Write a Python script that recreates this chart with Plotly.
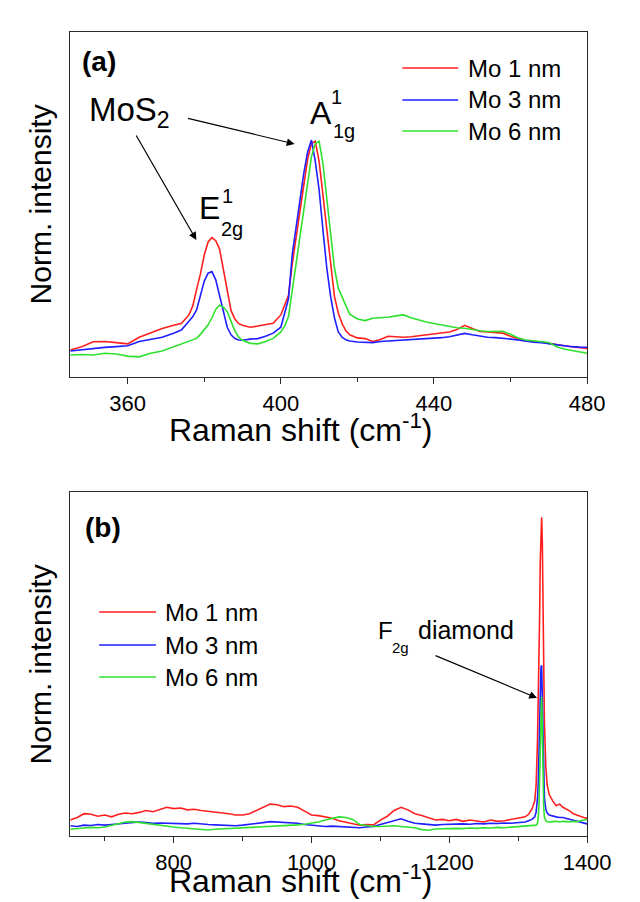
import plotly.graph_objects as go

# ---------------- data: panel (a) MoS2 region ----------------
shift_a = [345, 348, 351, 354, 357, 360, 363, 366, 369, 372, 374, 376, 377, 378, 379, 380,
           381, 382, 383, 384, 385, 386, 387, 388, 389, 390, 392, 394, 396, 398, 400, 401,
           402, 403, 404, 405, 406, 407, 408, 409, 410, 411, 412, 413, 414, 415, 416, 417,
           418, 420, 422, 424, 426, 428, 430, 432, 434, 436, 438, 440, 442, 444, 446, 448,
           450, 452, 454, 456, 458, 460, 462, 464, 466, 468, 470, 472, 474, 476, 478, 480]

mo1_a = [0.114, 0.128, 0.149, 0.150, 0.145, 0.140, 0.168, 0.186, 0.205, 0.218, 0.226, 0.262,
         0.300, 0.370, 0.435, 0.515, 0.570, 0.588, 0.575, 0.540, 0.450, 0.360, 0.280, 0.245,
         0.225, 0.218, 0.210, 0.215, 0.222, 0.227, 0.262, 0.300, 0.345, 0.480, 0.590, 0.700,
         0.820, 0.920, 0.985, 0.995, 0.910, 0.770, 0.620, 0.470, 0.340, 0.270, 0.225, 0.195,
         0.178, 0.165, 0.162, 0.150, 0.158, 0.172, 0.170, 0.168, 0.170, 0.174, 0.178, 0.182,
         0.185, 0.190, 0.200, 0.218, 0.205, 0.192, 0.190, 0.188, 0.185, 0.172, 0.160, 0.152,
         0.150, 0.148, 0.142, 0.136, 0.132, 0.128, 0.124, 0.121]

mo3_a = [0.110, 0.115, 0.122, 0.125, 0.128, 0.132, 0.150, 0.158, 0.168, 0.185, 0.198, 0.235,
         0.255, 0.283, 0.345, 0.405, 0.438, 0.445, 0.410, 0.340, 0.270, 0.210, 0.178, 0.162,
         0.156, 0.155, 0.160, 0.162, 0.172, 0.185, 0.210, 0.270, 0.330, 0.520, 0.640, 0.755,
         0.860, 0.950, 1.000, 0.910, 0.790, 0.620, 0.460, 0.340, 0.250, 0.190, 0.168, 0.157,
         0.152, 0.148, 0.146, 0.145, 0.150, 0.152, 0.153, 0.154, 0.156, 0.158, 0.160, 0.163,
         0.166, 0.170, 0.176, 0.184, 0.178, 0.172, 0.168, 0.166, 0.164, 0.160, 0.156, 0.150,
         0.147, 0.145, 0.140, 0.136, 0.132, 0.128, 0.126, 0.125]

mo6_a = [0.093, 0.095, 0.093, 0.100, 0.097, 0.088, 0.085, 0.100, 0.110, 0.128, 0.138, 0.150,
         0.156, 0.163, 0.180, 0.198, 0.220, 0.250, 0.285, 0.303, 0.295, 0.275, 0.235, 0.195,
         0.168, 0.155, 0.142, 0.140, 0.150, 0.163, 0.190, 0.215, 0.255, 0.370, 0.490, 0.600,
         0.720, 0.830, 0.930, 0.985, 0.995, 0.900, 0.750, 0.590, 0.460, 0.375, 0.335, 0.300,
         0.265, 0.245, 0.238, 0.248, 0.250, 0.252, 0.258, 0.262, 0.250, 0.240, 0.232, 0.226,
         0.220, 0.214, 0.208, 0.206, 0.200, 0.195, 0.192, 0.194, 0.193, 0.180, 0.165, 0.156,
         0.152, 0.150, 0.146, 0.128, 0.118, 0.112, 0.106, 0.100]

# ---------------- data: panel (b) wide range ----------------
shift_b = [650, 660, 670, 680, 690, 700, 710, 720, 730, 740, 750, 760, 770, 780, 790, 800,
           810, 820, 830, 840, 850, 860, 870, 880, 890, 900, 910, 920, 930, 940, 950, 960,
           970, 980, 990, 1000, 1010, 1020, 1030, 1040, 1050, 1060, 1070, 1080, 1090, 1100,
           1110, 1120, 1130, 1140, 1150, 1160, 1170, 1180, 1190, 1200, 1210, 1220, 1230, 1240,
           1250, 1260, 1270, 1280, 1290, 1300, 1310, 1315, 1320, 1324, 1326, 1328, 1329, 1330,
           1331, 1332, 1333, 1334, 1335, 1336, 1337, 1338, 1340, 1342, 1345, 1350, 1355, 1360,
           1365, 1370, 1375, 1380, 1385, 1390, 1395, 1400]

mo1_b = [0.050, 0.058, 0.070, 0.068, 0.062, 0.066, 0.060, 0.068, 0.072, 0.070, 0.074, 0.080,
         0.076, 0.084, 0.090, 0.086, 0.088, 0.082, 0.084, 0.080, 0.078, 0.074, 0.072, 0.070,
         0.066, 0.066, 0.070, 0.080, 0.092, 0.100, 0.098, 0.092, 0.094, 0.090, 0.078, 0.066,
         0.064, 0.060, 0.056, 0.048, 0.044, 0.040, 0.034, 0.036, 0.035, 0.050, 0.062, 0.080,
         0.090, 0.082, 0.070, 0.064, 0.058, 0.050, 0.052, 0.048, 0.052, 0.046, 0.050, 0.048,
         0.044, 0.050, 0.046, 0.048, 0.052, 0.054, 0.060, 0.068, 0.085, 0.110, 0.160, 0.300,
         0.400, 0.520, 0.680, 0.860, 0.980, 1.000, 0.920, 0.700, 0.500, 0.360, 0.220, 0.160,
         0.130, 0.110, 0.095, 0.100, 0.090, 0.085, 0.078, 0.070, 0.066, 0.060, 0.058, 0.056]

mo3_b = [0.032, 0.030, 0.034, 0.033, 0.036, 0.034, 0.036, 0.038, 0.040, 0.042, 0.044, 0.042,
         0.040, 0.041, 0.040, 0.041, 0.040, 0.038, 0.040, 0.037, 0.036, 0.035, 0.034, 0.033,
         0.032, 0.034, 0.036, 0.038, 0.042, 0.045, 0.044, 0.043, 0.042, 0.040, 0.036, 0.034,
         0.033, 0.030, 0.031, 0.030, 0.028, 0.027, 0.026, 0.028, 0.030, 0.036, 0.042, 0.050,
         0.054, 0.046, 0.040, 0.038, 0.035, 0.034, 0.036, 0.037, 0.036, 0.038, 0.037, 0.039,
         0.038, 0.040, 0.039, 0.041, 0.040, 0.042, 0.044, 0.048, 0.052, 0.060, 0.075, 0.120,
         0.160, 0.250, 0.380, 0.480, 0.530, 0.535, 0.440, 0.300, 0.180, 0.120, 0.085, 0.072,
         0.066, 0.062, 0.060, 0.058, 0.058, 0.055, 0.052, 0.050, 0.048, 0.045, 0.042, 0.038]

mo6_b = [0.021, 0.024, 0.025, 0.027, 0.026, 0.028, 0.034, 0.040, 0.044, 0.045, 0.042, 0.040,
         0.036, 0.032, 0.030, 0.028, 0.026, 0.024, 0.022, 0.020, 0.019, 0.021, 0.022, 0.023,
         0.024, 0.025, 0.026, 0.027, 0.028, 0.029, 0.030, 0.031, 0.033, 0.035, 0.037, 0.040,
         0.044, 0.050, 0.055, 0.060, 0.058, 0.052, 0.036, 0.032, 0.030, 0.030, 0.031, 0.032,
         0.030, 0.028, 0.026, 0.020, 0.018, 0.022, 0.023, 0.022, 0.024, 0.023, 0.025, 0.024,
         0.026, 0.025, 0.027, 0.026, 0.028, 0.028, 0.030, 0.032, 0.032, 0.033, 0.034, 0.040,
         0.055, 0.090, 0.180, 0.320, 0.420, 0.437, 0.340, 0.180, 0.090, 0.060, 0.048, 0.045,
         0.044, 0.045, 0.046, 0.044, 0.046, 0.045, 0.044, 0.046, 0.045, 0.048, 0.050, 0.052]

series_names = ["Mo 1 nm", "Mo 3 nm", "Mo 6 nm"]
colors = ["#ff1f1f", "#1f1fff", "#2fe02f"]

# ---------------- figure ----------------
W, H = 640, 902
FONT = "Liberation Sans, Arial, Helvetica, sans-serif"


def px(x):
    return x / W


def py(y):
    return 1 - y / H


fig = go.Figure()
for name, col, ya in zip(series_names, colors, [mo1_a, mo3_a, mo6_a]):
    fig.add_trace(go.Scatter(x=shift_a, y=ya, mode="lines", name=name,
                             line=dict(color=col, width=1.6), xaxis="x", yaxis="y",
                             showlegend=False))
for name, col, yb in zip(series_names, colors, [mo1_b, mo3_b, mo6_b]):
    fig.add_trace(go.Scatter(x=shift_b, y=yb, mode="lines", name=name,
                             line=dict(color=col, width=1.6), xaxis="x2", yaxis="y2",
                             showlegend=False))

LINE = "#2a2a2a"
xcommon = dict(showline=True, mirror=True, linecolor=LINE, linewidth=1.4, showgrid=False,
               zeroline=False, ticks="outside", ticklen=6, tickwidth=1.3, tickcolor=LINE,
               tickfont=dict(family=FONT, size=22, color="black"))
ycommon = dict(showline=True, mirror=True, linecolor=LINE, linewidth=1.4, showgrid=False,
               zeroline=False, ticks="", showticklabels=False)

fig.update_layout(
    width=W, height=H, margin=dict(l=0, r=0, t=0, b=0),
    paper_bgcolor="white", plot_bgcolor="white",
    font=dict(family=FONT, color="black"),
    xaxis=dict(domain=[px(73), px(610)], range=[345, 480], tick0=360, dtick=40, anchor="y",
               minor=dict(ticks="outside", dtick=20, ticklen=4, tickcolor=LINE),
               **xcommon),
    yaxis=dict(domain=[py(377), py(32)], range=[0, 1.456], anchor="x", **ycommon),
    xaxis2=dict(domain=[px(73), px(610)], range=[650, 1400], tick0=0, dtick=200, anchor="y2",
                minor=dict(ticks="outside", dtick=100, ticklen=4, tickcolor=LINE),
                **xcommon),
    yaxis2=dict(domain=[py(836), py(492)], range=[0, 1.079], anchor="x2", **ycommon),
)

ann = []


def text(t, x, y, size, xanchor="center", yanchor="middle", bold=False, angle=0):
    ann.append(dict(text=f"<b>{t}</b>" if bold else t, x=px(x), y=py(y), xref="paper",
                    yref="paper", showarrow=False, xanchor=xanchor, yanchor=yanchor,
                    textangle=angle, font=dict(family=FONT, size=size, color="black")))


def arrow(tip, tail):
    ann.append(dict(text="", x=px(tip[0]), y=py(tip[1]), xref="paper", yref="paper",
                    showarrow=True, ax=tail[0] - tip[0], ay=tail[1] - tip[1],
                    arrowhead=2, arrowsize=1.3, arrowwidth=1.2, arrowcolor="black"))


# axis titles
text("Raman shift (cm<sup>-1</sup>)", 313, 428, 32)
text("Raman shift (cm<sup>-1</sup>)", 313, 879, 32)
text("Norm. intensity", 42, 204, 30, angle=-90)
text("Norm. intensity", 42, 664, 30, angle=-90)

# panel labels
text("(a)", 103, 61, 28, bold=True)
text("(b)", 107, 527, 28, bold=True)

# panel (a) peak labels
text("MoS<sub>2</sub>", 90, 112, 33, xanchor="left")
arrow((306, 144), (198, 118))
arrow((204, 240), (143, 134))
text("A", 333, 113, 32)
text("1", 350, 97, 20)
text("1g", 357, 131, 20)
text("E", 218, 208, 32)
text("1", 236, 196, 20)
text("2g", 241, 229, 20)

# panel (b) peak label
text("F", 400, 630, 24)
text("2g", 416, 647, 15)
text("diamond", 432, 630, 25, xanchor="left")
arrow((558, 698), (455, 655))

# manual legends
shapes = []
for i, (name, col) in enumerate(zip(series_names, colors)):
    ya = [68, 100, 131][i]
    shapes.append(dict(type="line", xref="paper", yref="paper", x0=px(418), x1=px(476),
                       y0=py(ya), y1=py(ya), line=dict(color=col, width=1.6)))
    text(name, 484, ya, 24, xanchor="left")
    yb = [612, 645, 677][i]
    shapes.append(dict(type="line", xref="paper", yref="paper", x0=px(103), x1=px(162),
                       y0=py(yb), y1=py(yb), line=dict(color=col, width=1.6)))
    text(name, 169, yb, 24, xanchor="left")

fig.update_layout(annotations=ann, shapes=shapes)
fig.write_html("out.html")
